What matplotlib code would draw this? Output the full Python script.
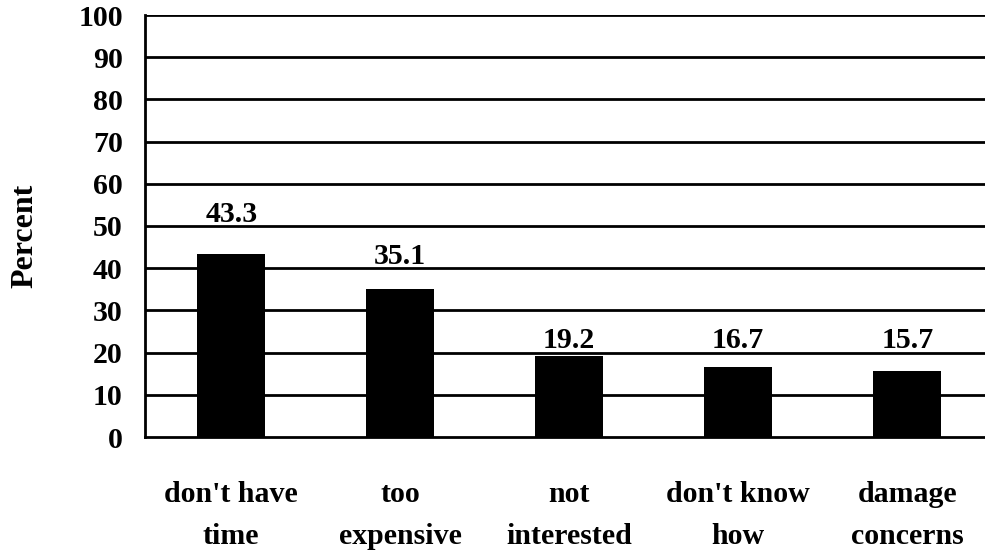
import math
import matplotlib
matplotlib.use('Agg')
import matplotlib.pyplot as plt

reasons = ["don't have\ntime", "too\nexpensive", "not\ninterested", "don't know\nhow", "damage\nconcerns"]
percent = [43.3, 35.1, 19.2, 16.7, 15.7]
yticks = [0, 10, 20, 30, 40, 50, 60, 70, 80, 90, 100]

plt.rcParams['font.family'] = 'Liberation Serif'
plt.rcParams['font.weight'] = 'bold'

fig = plt.figure(figsize=(9.85, 5.54), dpi=100)
ax = fig.add_axes([145 / 985, 1 - 437 / 554, 840 / 985, 422 / 554])

x = list(range(len(reasons)))
for t in yticks[1:]:
    ax.axhline(t, color='black', lw=2, zorder=1)
ax.bar(x, percent, width=0.405, color='black', zorder=2)

# value labels sit just above the next gridline over each bar
for xi, v in zip(x, percent):
    ax.text(xi, math.ceil(v / 10) * 10 + 1.0, '%.1f' % v, ha='center', va='baseline',
            fontsize=21.5, fontweight='bold')

ax.set_xlim(-0.51, 4.46)
ax.set_ylim(0, 100)
ax.set_yticks(yticks)
ax.set_yticklabels([str(t) for t in yticks], fontsize=21.5, fontweight='bold')
ax.set_xticks(x)
ax.set_xticklabels(reasons, fontsize=21.5, fontweight='bold', linespacing=1.7)
ax.tick_params(axis='both', length=0)
ax.tick_params(axis='y', pad=16)
ax.tick_params(axis='x', pad=32)

for side in ['top', 'right']:
    ax.spines[side].set_visible(False)
ax.spines['left'].set_linewidth(2)
ax.spines['bottom'].set_linewidth(2)

ax.set_ylabel('Percent', fontsize=23, fontweight='bold')
ax.yaxis.set_label_coords(-0.126, 0.476)

fig.savefig('out.png', dpi=100)
